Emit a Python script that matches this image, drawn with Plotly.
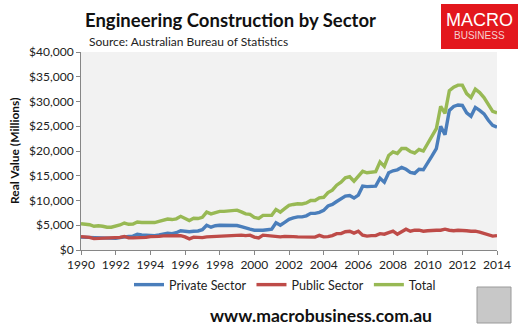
import plotly.graph_objects as go

# quarterly dates 1990 Q1 .. 2014 Q1
years = [1990 + 0.25 * i for i in range(97)]

private_sector = [
    2600, 2550, 2500, 2450, 2400, 2350, 2300, 2250,
    2350, 2500, 2700, 2750, 2800, 3200, 3050, 3000,
    2950, 2900, 3050, 3200, 3400, 3300, 3500, 3900,
    3750, 3700, 3800, 3850, 4100, 5000, 4600, 4900,
    5000, 5000, 5000, 5000, 4950, 4700, 4400, 4200,
    4000, 3950, 4000, 4100, 4200, 5500, 5000, 5600,
    6200, 6500, 6700, 6700, 6900, 7400, 7400, 7600,
    8000, 8900, 9200, 9800, 10400, 10900, 11000, 10500,
    11100, 12900, 12800, 12800, 12900, 14500, 13700, 15600,
    16000, 16200, 16700, 16300, 15700, 15500, 16300, 16200,
    17500, 19000, 20500, 25000, 23300, 28200, 29000, 29300,
    29200, 27700, 27000, 28800, 28200, 27500, 26200, 25200,
    24800,
]
public_sector = [
    2700, 2650, 2550, 2300, 2350, 2400, 2300, 2350,
    2450, 2550, 2750, 2450, 2450, 2450, 2500, 2550,
    2700, 2650, 2750, 2850, 2850, 2850, 2800, 2900,
    2650, 2250, 2600, 2500, 2500, 2650, 2700, 2700,
    2800, 2800, 2900, 3000, 3100, 3000, 2900, 3000,
    2600, 2450, 3000, 2900, 2800, 2700, 2650, 2750,
    2800, 2700, 2650, 2600, 2600, 2600, 2600, 2950,
    2650, 2700, 2900, 3300, 3300, 3700, 3800, 3400,
    3800, 3000, 2800, 2900, 2900, 3300, 3200, 3500,
    3800, 3200, 3700, 4200, 3800, 4000, 4000, 3800,
    3900, 4000, 4000, 4000, 4200, 4000, 3900, 4000,
    4000, 3900, 3800, 3800, 3600, 3300, 3100, 2800,
    2900,
]
total = [
    5300, 5200, 5100, 4800, 4900, 4800, 4600, 4600,
    4800, 5050, 5450, 5200, 5250, 5650, 5550, 5550,
    5650, 5550, 5800, 6050, 6250, 6150, 6300, 6800,
    6400, 5950, 6400, 6350, 6600, 7650, 7300, 7600,
    7800, 7800, 7900, 8000, 8050, 7700, 7300, 7200,
    6600, 6400, 7000, 7000, 7000, 8200, 7650, 8350,
    9000, 9200, 9350, 9300, 9500, 10000, 10000, 10550,
    10650, 11600, 12100, 13100, 13700, 14600, 14800, 13900,
    14900, 15900, 15600, 15700, 15800, 17800, 16900, 19100,
    19800, 19500, 20500, 20500, 19900, 19600, 20300, 20000,
    21400, 23000, 24500, 29000, 27600, 32200, 32900, 33300,
    33300, 31600, 30800, 32500, 31800, 30800, 29300, 28000,
    27700,
]

series_names = ["Private Sector", "Public Sector", "Total"]
series_colors = ["#4A7EBB", "#BE4B48", "#98B954"]
x_ticks = list(range(1990, 2015, 2))

W, H = 522, 331
L, R, T, B = 81, 497, 52, 250
FONT = "Lato, 'Open Sans', sans-serif"


def px(x):
    return (x - L) / (R - L)


def py(y):
    return (B - y) / (B - T)


fig = go.Figure()
for name, vals, col in zip(series_names, [private_sector, public_sector, total], series_colors):
    fig.add_trace(go.Scatter(x=years, y=vals, mode="lines", name=name,
                             line=dict(color=col, width=3.4)))

fig.update_layout(
    width=W, height=H,
    margin=dict(l=L, r=W - R, t=T, b=H - B),
    paper_bgcolor="white",
    plot_bgcolor="#F2F2F2",
    font=dict(family=FONT, size=12, color="#222222"),
    showlegend=True,
    legend=dict(orientation="h", x=px(285), xanchor="center", y=py(285), yanchor="middle",
                font=dict(size=12.5, color="#222222"), itemwidth=30,
                tracegroupgap=0, bgcolor="rgba(0,0,0,0)"),
    xaxis=dict(range=[1990, 2014], tickvals=x_ticks, ticktext=[str(t) for t in x_ticks],
               showgrid=False, zeroline=False, showline=True, linecolor="#868686",
               linewidth=1, ticks="outside", ticklen=4, tickcolor="#868686",
               tickfont=dict(size=12, color="#222222")),
    yaxis=dict(range=[0, 40000], dtick=5000, tickprefix="$", tickformat=",",
               showgrid=False, zeroline=False, showline=True, linecolor="#868686",
               linewidth=1, ticks="outside", ticklen=4, tickcolor="#868686",
               tickfont=dict(size=12, color="#222222")),
)

# titles
fig.add_annotation(text="<b>Engineering Construction by Sector</b>", xref="paper", yref="paper",
                   x=px(83), y=py(20), xanchor="left", yanchor="middle", showarrow=False,
                   font=dict(size=18.5, color="#111111", family=FONT))
fig.add_annotation(text="Source: Australian Bureau of Statistics", xref="paper", yref="paper",
                   x=px(87), y=py(42), xanchor="left", yanchor="middle", showarrow=False,
                   font=dict(size=12, color="#222222", family=FONT))
fig.add_annotation(text="<b>Real Value (Millions)</b>", xref="paper", yref="paper",
                   x=px(14), y=0.5, xanchor="center", yanchor="middle", showarrow=False,
                   textangle=-90, font=dict(size=12, color="#111111", family=FONT))
fig.add_annotation(text="<b>www.macrobusiness.com.au</b>", xref="paper", yref="paper",
                   x=px(321), y=py(315), xanchor="center", yanchor="middle", showarrow=False,
                   font=dict(size=17.6, color="#111111", family=FONT))

# logo box
fig.add_shape(type="rect", xref="paper", yref="paper", x0=px(441), x1=px(518),
              y0=py(49), y1=py(4), fillcolor="#E3171D", line=dict(width=0), layer="above")
fig.add_annotation(text="MACRO", xref="paper", yref="paper", x=px(479.5), y=py(20),
                   xanchor="center", yanchor="middle", showarrow=False,
                   font=dict(size=18, color="white", family="'Liberation Sans Narrow', Arial, sans-serif"))
fig.add_annotation(text="BUSINESS", xref="paper", yref="paper", x=px(479.5), y=py(36),
                   xanchor="center", yanchor="middle", showarrow=False,
                   font=dict(size=10, color="#F6D0D0", family="'Liberation Sans', Arial, sans-serif"))

# fox picture placeholder
fig.add_shape(type="rect", xref="paper", yref="paper", x0=px(477), x1=px(511),
              y0=py(323), y1=py(287), fillcolor="#C8C8C8", line=dict(color="#9A9A9A", width=1))

fig.write_html("out.html")
